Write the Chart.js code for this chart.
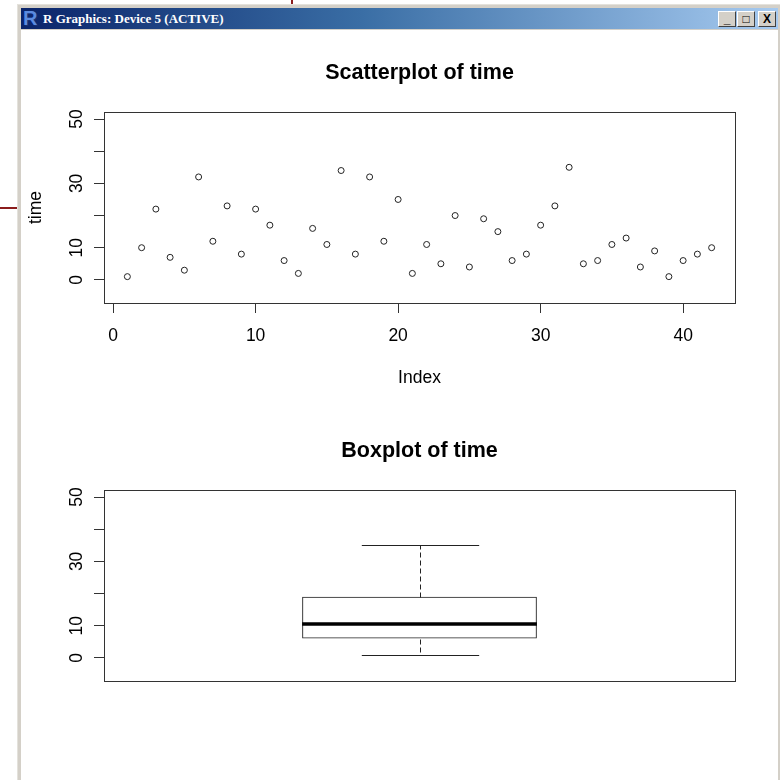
<!DOCTYPE html>
<html>
<head>
<meta charset="utf-8">
<script src="https://cdn.jsdelivr.net/npm/chart.js@4.4.1/dist/chart.umd.min.js"></script>
<style>
  html, body { margin: 0; padding: 0; background: #fff; }
  body { width: 780px; height: 780px; position: relative; overflow: hidden; }
  .mark-top { position: absolute; left: 291px; top: 0; width: 2px; height: 5px; background: #8b1c1c; }
  .mark-left { position: absolute; left: 0; top: 207px; width: 18px; height: 2px; background: #8b1c1c; }
  .win { position: absolute; left: 17px; top: 4px; width: 763px; height: 800px;
         background: #d4d0c8; border-left: 1px solid #e4e2dc; border-top: 1px solid #e4e2dc; box-sizing: border-box; }
  .bar { position: absolute; left: 21px; top: 8px; width: 757px; height: 21px;
         background: linear-gradient(to right, #0a246a 0%, #3a6ea5 45%, #a6caf0 100%); }
  .bar .icon { position: absolute; left: 2px; top: -1px; font: bold 20px "Liberation Sans", Arial, sans-serif;
         color: #5b8be0; text-shadow: 1px 1px 0 #1a2f70; }
  .bar .cap { position: absolute; left: 22px; top: 3px; font: bold 13px "Liberation Serif", serif; color: #fff; white-space: nowrap; }
  .btn { position: absolute; top: 3px; width: 16px; height: 14px; background: #d4d0c8;
         border-top: 1px solid #fff; border-left: 1px solid #fff; border-right: 1px solid #404040; border-bottom: 1px solid #404040;
         font: bold 12px "Liberation Sans", Arial, sans-serif; color: #000; text-align: center; line-height: 14px; }
  .client { position: absolute; left: 21px; top: 30px; width: 757px; height: 760px; background: #fff; }
  canvas { position: absolute; left: 0; }
</style>
</head>
<body>
<div class="mark-top"></div>
<div class="mark-left"></div>
<div class="win"></div>
<div class="bar">
  <span class="icon">R</span>
  <span class="cap">R Graphics: Device 5 (ACTIVE)</span>
  <div class="btn" style="left:697px">_</div>
  <div class="btn" style="left:716px">&#9633;</div>
  <div class="btn" style="left:737px">X</div>
</div>
<div class="client"></div>
<canvas id="scatter" width="780" height="400" style="top:0"></canvas>
<canvas id="boxplot" width="780" height="380" style="top:400px"></canvas>
<script>
// time 값 (Index 1..42)
const timeValues = [1, 10, 22, 7, 3, 32, 12, 23, 8, 22, 17, 6, 2, 16, 11, 34, 8, 32, 12, 25, 2,
                    11, 5, 20, 4, 19, 15, 6, 8, 17, 23, 35, 5, 6, 11, 13, 4, 9, 1, 6, 8, 10];
const indexTicks = [0, 10, 20, 30, 40];
const timeTicks = [0, 10, 20, 30, 40, 50];
const timeTickLabels = ['0', '10', '', '30', '', '50'];   // 20, 40 은 라벨 생략
const boxCategories = ['time'];

// 축 범위 (양쪽 4% 여유)
const indexRange = [-0.64, 43.64];
const timeRange = [-7.2, 52.2];

Chart.defaults.font.family = '"Liberation Sans", Arial, sans-serif';
Chart.defaults.color = '#000';

// Tukey 다섯 수치 요약 (min, lower hinge, median, upper hinge, max)
function fivenum(v) {
  const s = [...v].sort((a, b) => a - b);
  const n = s.length;
  const n4 = Math.floor((n + 3) / 2) / 2;
  const d = [1, n4, (n + 1) / 2, n + 1 - n4, n];
  return d.map(i => 0.5 * (s[Math.floor(i) - 1] + s[Math.ceil(i) - 1]));
}
const fn = fivenum(timeValues);
const iqr = fn[3] - fn[1];
const whiskHi = Math.max(...timeValues.filter(v => v <= fn[3] + 1.5 * iqr));
const whiskLo = Math.min(...timeValues.filter(v => v >= fn[1] - 1.5 * iqr));

// 플롯 테두리
const frame = {
  id: 'frame',
  afterDraw(chart) {
    const a = chart.chartArea, ctx = chart.ctx;
    ctx.save();
    ctx.strokeStyle = '#333';
    ctx.lineWidth = 1;
    ctx.strokeRect(Math.round(a.left) + 0.5, Math.round(a.top) + 0.5,
                   Math.round(a.right - a.left), Math.round(a.bottom - a.top));
    ctx.restore();
  }
};

// y축 라벨 90도 회전해서 그리기
const yLabels = {
  id: 'yLabels',
  afterDraw(chart) {
    const y = chart.scales.y, ctx = chart.ctx;
    ctx.save();
    ctx.fillStyle = '#000';
    ctx.font = '17.5px "Liberation Sans", Arial, sans-serif';
    ctx.textAlign = 'center';
    ctx.textBaseline = 'alphabetic';
    timeTicks.forEach((t, i) => {
      if (!timeTickLabels[i]) return;
      ctx.save();
      ctx.translate(chart.chartArea.left - 22, y.getPixelForValue(t));
      ctx.rotate(-Math.PI / 2);
      ctx.fillText(timeTickLabels[i], 0, 0);
      ctx.restore();
    });
    ctx.restore();
  }
};

const yAxis = {
  min: timeRange[0],
  max: timeRange[1],
  afterBuildTicks: s => { s.ticks = timeTicks.map(v => ({value: v})); },
  afterFit: s => { s.width = 104; },
  border: {display: false},
  grid: {drawOnChartArea: false, drawTicks: true, tickLength: 10, color: '#333', tickColor: '#333'},
  ticks: {display: false}
};

//----------------- 산점도 -----------------
new Chart(document.getElementById('scatter'), {
  type: 'scatter',
  data: {
    datasets: [{
      label: 'time',
      data: timeValues.map((v, i) => ({x: i + 1, y: v})),
      pointRadius: 3,
      pointBorderWidth: 1,
      borderColor: '#222',
      backgroundColor: 'rgba(0,0,0,0)'
    }]
  },
  options: {
    responsive: false,
    animation: false,
    layout: {padding: {left: 0, right: 45, top: 0, bottom: 0}},
    plugins: {
      legend: {display: false},
      tooltip: {enabled: false},
      // fullSize:false → 제목을 플롯 영역 가운데에 맞춤
      title: {display: true, fullSize: false, text: 'Scatterplot of time', color: '#000',
              font: {size: 21.5, weight: 'bold'}, padding: {top: 60.1, bottom: 26.1}}
    },
    scales: {
      x: {
        type: 'linear',
        min: indexRange[0],
        max: indexRange[1],
        afterBuildTicks: s => { s.ticks = indexTicks.map(v => ({value: v})); },
        afterFit: s => { s.height = 97; },
        border: {display: false},
        grid: {drawOnChartArea: false, drawTicks: true, tickLength: 10, color: '#333', tickColor: '#333'},
        ticks: {padding: 13, font: {size: 17.5}, maxRotation: 0, color: '#000'},
        title: {display: true, text: 'Index', font: {size: 17.5}, padding: {top: 0, bottom: 11.5}, color: '#000'}
      },
      y: Object.assign({}, yAxis, {
        title: {display: true, text: 'time', font: {size: 17.5}, padding: {top: 25.5, bottom: 0}, color: '#000'}
      })
    }
  },
  plugins: [frame, yLabels]
});

//----------------- 상자그림 -----------------
// 중앙값 굵은 선, 점선 수염, 수염 끝 가로선
const whiskers = {
  id: 'whiskers',
  afterDatasetsDraw(chart) {
    const bar = chart.getDatasetMeta(0).data[0];
    const y = chart.scales.y, ctx = chart.ctx;
    const cx = Math.round(bar.x) + 0.5, hw = bar.width / 2;
    const py = v => Math.round(y.getPixelForValue(v)) + 0.5;
    ctx.save();
    ctx.strokeStyle = '#222';
    ctx.lineWidth = 1;
    ctx.setLineDash([5, 3]);
    ctx.beginPath();
    ctx.moveTo(cx, py(fn[3])); ctx.lineTo(cx, py(whiskHi));
    ctx.moveTo(cx, py(fn[1])); ctx.lineTo(cx, py(whiskLo));
    ctx.stroke();
    ctx.setLineDash([]);
    ctx.beginPath();
    ctx.moveTo(cx - hw / 2, py(whiskHi)); ctx.lineTo(cx + hw / 2, py(whiskHi));
    ctx.moveTo(cx - hw / 2, py(whiskLo)); ctx.lineTo(cx + hw / 2, py(whiskLo));
    ctx.stroke();
    ctx.strokeStyle = '#000';
    ctx.lineWidth = 3.5;
    ctx.beginPath();
    ctx.moveTo(bar.x - hw, y.getPixelForValue(fn[2]));
    ctx.lineTo(bar.x + hw, y.getPixelForValue(fn[2]));
    ctx.stroke();
    ctx.restore();
  }
};

new Chart(document.getElementById('boxplot'), {
  type: 'bar',
  data: {
    labels: boxCategories,
    datasets: [{
      label: 'time',
      data: [[fn[1], fn[3]]],
      backgroundColor: 'rgba(0,0,0,0)',
      borderColor: '#222',
      borderWidth: 1,
      borderSkipped: false,
      categoryPercentage: 1,
      barPercentage: 0.372
    }]
  },
  options: {
    responsive: false,
    animation: false,
    layout: {padding: {left: 0, right: 45, top: 0, bottom: 99}},
    plugins: {
      legend: {display: false},
      tooltip: {enabled: false},
      title: {display: true, fullSize: false, text: 'Boxplot of time', color: '#000',
              font: {size: 21.5, weight: 'bold'}, padding: {top: 38.1, bottom: 26.1}}
    },
    scales: {
      x: {display: false},
      y: yAxis
    }
  },
  plugins: [frame, yLabels, whiskers]
});
</script>
</body>
</html>
